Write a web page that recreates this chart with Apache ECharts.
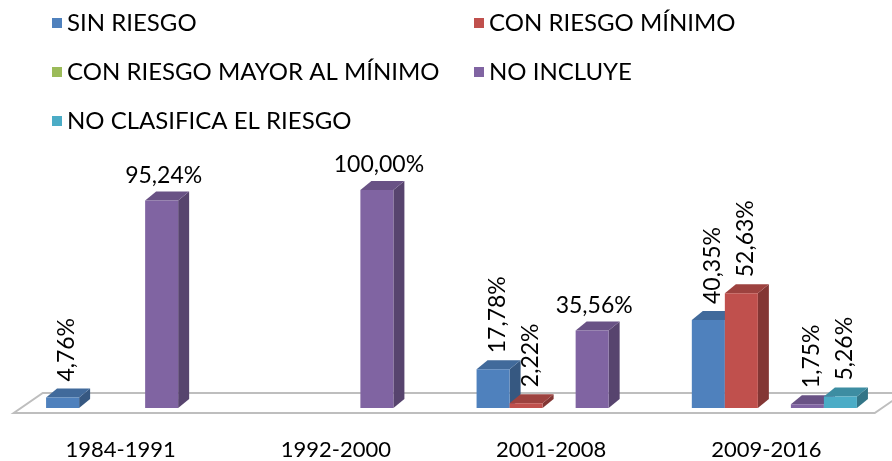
<!DOCTYPE html>
<html>
<head>
<meta charset="utf-8">
<script src="https://cdn.jsdelivr.net/npm/echarts@6/dist/echarts.min.js"></script>
<style>
html,body{margin:0;padding:0;background:#fff;}
#chart{width:892px;height:461px;}
</style>
</head>
<body>
<div id="chart"></div>
<script>
// ---- data ----
const categories = ['1984-1991', '1992-2000', '2001-2008', '2009-2016'];
const seriesNames = ['SIN RIESGO', 'CON RIESGO MÍNIMO', 'CON RIESGO MAYOR AL MÍNIMO', 'NO INCLUYE', 'NO CLASIFICA EL RIESGO'];
const sinRiesgo = [4.76, null, 17.78, 40.35];
const conRiesgoMinimo = [null, null, 2.22, 52.63];
const conRiesgoMayor = [null, null, null, null];
const noIncluye = [95.24, 100.00, 35.56, 1.75];
const noClasifica = [null, null, null, 5.26];
// labels drawn horizontally: [seriesIndex, categoryIndex]; others are vertical
const horizontalLabels = [[3, 0], [3, 1], [3, 2]];

// ---- style ----
const colors = ['#4F81BD', '#C0504D', '#9BBB59', '#8064A2', '#4BACC6'];
const FONT = 'Lato, "Open Sans", sans-serif';
const GROUP = 0.767;   // fraction of the band used by the bar group
const DX = 11, DY = 9; // bar depth projection
const FLOOR_FRONT = 5, FLOOR_BACK = 15, FLOOR_RATIO = 1.45;

const allValues = [sinRiesgo, conRiesgoMinimo, conRiesgoMayor, noIncluye, noClasifica];

function shade(hex, f) {
  const n = parseInt(hex.slice(1), 16);
  const r = Math.round(((n >> 16) & 255) * f), g = Math.round(((n >> 8) & 255) * f), b = Math.round((n & 255) * f);
  return 'rgb(' + r + ',' + g + ',' + b + ')';
}
function fmt(v) { return v.toFixed(2).replace('.', ',') + '%'; }
function isHorizontal(si, ci) { return horizontalLabels.some(p => p[0] === si && p[1] === ci); }

function barRenderer(si) {
  return function (params, api) {
    const ci = api.value(0), v = api.value(1);
    if (v == null || isNaN(v) || v === 0) return;
    const base = api.coord([ci, 0]);
    const top = api.coord([ci, v]);
    const band = api.size([1, 0])[0];
    const bw = band * GROUP / seriesNames.length;
    const x0 = base[0] - band * GROUP / 2 + si * bw;
    const x1 = x0 + bw;
    const yb = base[1], yt = top[1];
    const c = colors[si];
    const children = [
      { type: 'polygon', shape: { points: [[x1, yb], [x1 + DX, yb - DY], [x1 + DX, yt - DY], [x1, yt]] },
        style: { fill: shade(c, 0.68) } },
      { type: 'polygon', shape: { points: [[x0, yt], [x1, yt], [x1 + DX, yt - DY], [x0 + DX, yt - DY]] },
        style: { fill: shade(c, 0.82) } },
      { type: 'rect', shape: { x: x0, y: yt, width: bw, height: yb - yt },
        style: { fill: c } }
    ];
    const cx = (x0 + x1) / 2;
    if (isHorizontal(si, ci)) {
      children.push({ type: 'text', x: cx + 2, y: yt - 25,
        style: { text: fmt(v), fill: '#000', fontSize: 23, fontFamily: FONT,
                 align: 'center', verticalAlign: 'middle', textAlign: 'center', textVerticalAlign: 'middle' } });
    } else {
      children.push({ type: 'text', x: cx + 4, y: yt - 16, rotation: Math.PI / 2,
        style: { text: fmt(v), fill: '#000', fontSize: 23, fontFamily: FONT,
                 align: 'left', verticalAlign: 'middle', textAlign: 'left', textVerticalAlign: 'middle' } });
    }
    return { type: 'group', children: children };
  };
}

function floorRenderer(params, api) {
  const base = api.coord([0, 0]);
  const band = api.size([1, 0])[0];
  const left = base[0] - band / 2;
  const right = left + band * categories.length;
  const y = base[1];
  const pts = [
    [left - FLOOR_FRONT * FLOOR_RATIO, y + FLOOR_FRONT],
    [right - FLOOR_FRONT * FLOOR_RATIO, y + FLOOR_FRONT],
    [right + FLOOR_BACK * FLOOR_RATIO, y - FLOOR_BACK],
    [left + FLOOR_BACK * FLOOR_RATIO, y - FLOOR_BACK]
  ];
  return { type: 'polygon', shape: { points: pts },
    style: { fill: '#ffffff', stroke: '#BEBEBE', lineWidth: 2 } };
}

const series = [{
  type: 'custom', name: '_floor', renderItem: floorRenderer, data: [[0, 0]],
  encode: { x: 0, y: 1 }, silent: true, z: 1
}];
seriesNames.forEach((name, si) => {
  series.push({
    type: 'custom', name: name, z: 2 + si,
    renderItem: barRenderer(si),
    itemStyle: { color: colors[si] },
    encode: { x: 0, y: 1 },
    data: categories.map((c, ci) => [ci, allValues[si][ci] == null ? NaN : allValues[si][ci]])
  });
});

const legendText = { fontSize: 24, fontFamily: FONT, color: '#000' };
const chart = echarts.init(document.getElementById('chart'));
chart.setOption({
  animation: false,
  grid: { left: 21, right: 10, top: 190, bottom: 53, containLabel: false },
  legend: [
    { orient: 'vertical', left: 47, top: 6, itemGap: 25, icon: 'rect', itemWidth: 10, itemHeight: 10,
      textStyle: legendText, selectedMode: false,
      data: [seriesNames[0], seriesNames[2], seriesNames[4]] },
    { orient: 'vertical', left: 469, top: 6, itemGap: 25, icon: 'rect', itemWidth: 10, itemHeight: 10,
      textStyle: legendText, selectedMode: false,
      data: [seriesNames[1], seriesNames[3]] }
  ],
  xAxis: {
    type: 'category', data: categories,
    axisLine: { show: false }, axisTick: { show: false }, splitLine: { show: false },
    axisLabel: { fontSize: 22, fontFamily: FONT, color: '#000', margin: 31, padding: [0, 16, 0, 0] }
  },
  yAxis: { type: 'value', min: 0, max: 100, show: false, splitLine: { show: false } },
  series: series
});
</script>
</body>
</html>
